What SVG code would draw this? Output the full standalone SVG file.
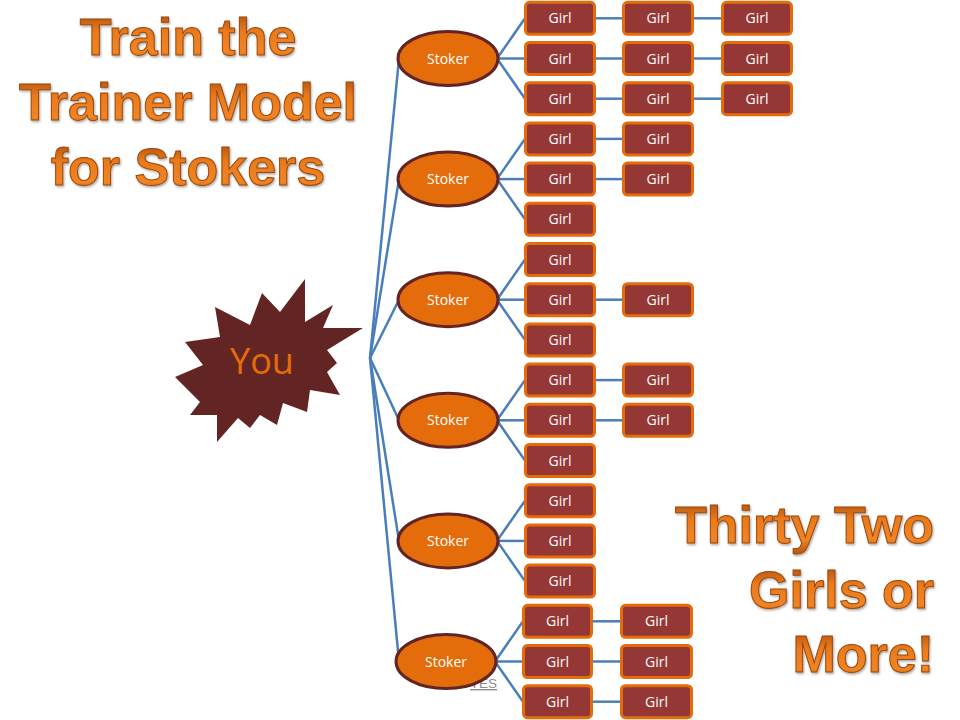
<svg xmlns="http://www.w3.org/2000/svg" width="960" height="720" viewBox="0 0 960 720">
<defs>
<linearGradient id="tg" x1="0" y1="0" x2="0" y2="1">
<stop offset="0" stop-color="#A2480A"/>
<stop offset="0.4" stop-color="#E97A1C"/>
<stop offset="0.75" stop-color="#F08524"/>
<stop offset="1" stop-color="#B2560D"/>
</linearGradient>
<filter id="sh" x="-5%" y="-10%" width="110%" height="130%">
<feDropShadow dx="1" dy="1.5" stdDeviation="0.8" flood-color="#000" flood-opacity="0.35"/>
</filter>
</defs>
<style>
.title{font-family:"Liberation Sans",Arial,sans-serif;font-weight:bold;font-size:52px;fill:url(#tg);stroke:#9C4709;stroke-width:1;filter:url(#sh)}
.con line{stroke:#4A7EBB;stroke-width:2.5;fill:none}
.stoker ellipse{fill:#E46C0A;stroke:#632523;stroke-width:3}
.stoker text{font-family:"Open Sans","Liberation Sans",sans-serif;font-size:14px;fill:#FFFFFF;text-anchor:middle}
.girl rect{fill:#953735;stroke:#E46C0A;stroke-width:3}
.girl text{font-family:"Open Sans","Liberation Sans",sans-serif;font-size:14px;fill:#FFFFFF;text-anchor:middle}
</style>
<rect width="960" height="720" fill="#FFFFFF"/>

<g id="title-top">
<text class="title" x="188" y="55" text-anchor="middle">Train the</text>
<text class="title" x="188" y="120" text-anchor="middle">Trainer Model</text>
<text class="title" x="188" y="185" text-anchor="middle">for Stokers</text>
</g>
<g id="title-bottom">
<text class="title" x="934" y="543" text-anchor="end">Thirty Two</text>
<text class="title" x="934" y="608" text-anchor="end">Girls or</text>
<text class="title" x="934" y="672" text-anchor="end">More!</text>
</g>

<text x="470" y="688" font-family="Liberation Sans,Arial,sans-serif" font-size="13.5" fill="#8C8C8C" text-decoration="underline">YES</text>

<g id="connectors" class="con">
<line x1="370" y1="358" x2="399" y2="58.5"/>
<line x1="370" y1="358" x2="399" y2="179.1"/>
<line x1="370" y1="358" x2="399" y2="299.7"/>
<line x1="370" y1="358" x2="399" y2="420.3"/>
<line x1="370" y1="358" x2="399" y2="540.9"/>
<line x1="370" y1="358" x2="399" y2="661.5"/>
<line x1="497" y1="58.5" x2="525" y2="18.3"/>
<line x1="497" y1="58.5" x2="525" y2="58.5"/>
<line x1="497" y1="58.5" x2="525" y2="98.7"/>
<line x1="594" y1="18.3" x2="623" y2="18.3"/>
<line x1="692" y1="18.3" x2="722" y2="18.3"/>
<line x1="594" y1="58.5" x2="623" y2="58.5"/>
<line x1="692" y1="58.5" x2="722" y2="58.5"/>
<line x1="594" y1="98.7" x2="623" y2="98.7"/>
<line x1="692" y1="98.7" x2="722" y2="98.7"/>
<line x1="497" y1="179.1" x2="525" y2="138.9"/>
<line x1="497" y1="179.1" x2="525" y2="179.1"/>
<line x1="497" y1="179.1" x2="525" y2="219.3"/>
<line x1="594" y1="138.9" x2="623" y2="138.9"/>
<line x1="594" y1="179.1" x2="623" y2="179.1"/>
<line x1="497" y1="299.7" x2="525" y2="259.5"/>
<line x1="497" y1="299.7" x2="525" y2="299.7"/>
<line x1="497" y1="299.7" x2="525" y2="339.9"/>
<line x1="594" y1="299.7" x2="623" y2="299.7"/>
<line x1="497" y1="420.3" x2="525" y2="380.1"/>
<line x1="497" y1="420.3" x2="525" y2="420.3"/>
<line x1="497" y1="420.3" x2="525" y2="460.5"/>
<line x1="594" y1="380.1" x2="623" y2="380.1"/>
<line x1="594" y1="420.3" x2="623" y2="420.3"/>
<line x1="497" y1="540.9" x2="525" y2="500.7"/>
<line x1="497" y1="540.9" x2="525" y2="540.9"/>
<line x1="497" y1="540.9" x2="525" y2="581.1"/>
<line x1="495" y1="661.5" x2="523" y2="621.3"/>
<line x1="495" y1="661.5" x2="523" y2="661.5"/>
<line x1="495" y1="661.5" x2="523" y2="701.7"/>
<line x1="592" y1="621.3" x2="621" y2="621.3"/>
<line x1="592" y1="661.5" x2="621" y2="661.5"/>
<line x1="592" y1="701.7" x2="621" y2="701.7"/>
</g>

<g id="you">
<polygon fill="#632523" points="305,279 305,322 333,305 323,328 363,328 327,350 337,363 327,372 340,395 310,390 307,412 283,403 277,425 260,415 250,428 238,418 217,442 217,415 190,415 200,402 175,377 203,365 185,342 220,337 215,307 250,325 262,293 280,312"/>
<text x="262" y="374" font-family="Open Sans,Liberation Sans,sans-serif" font-size="36" fill="#E46C0A" text-anchor="middle">You</text>
</g>

<g id="stoker1" class="stoker"><ellipse cx="448" cy="58.5" rx="50" ry="27"/><text x="448" y="63.5">Stoker</text></g>
<g id="stoker2" class="stoker"><ellipse cx="448" cy="179.1" rx="50" ry="27"/><text x="448" y="184.1">Stoker</text></g>
<g id="stoker3" class="stoker"><ellipse cx="448" cy="299.7" rx="50" ry="27"/><text x="448" y="304.7">Stoker</text></g>
<g id="stoker4" class="stoker"><ellipse cx="448" cy="420.3" rx="50" ry="27"/><text x="448" y="425.3">Stoker</text></g>
<g id="stoker5" class="stoker"><ellipse cx="448" cy="540.9" rx="50" ry="27"/><text x="448" y="545.9">Stoker</text></g>
<g id="stoker6" class="stoker"><ellipse cx="446" cy="661.5" rx="50" ry="27"/><text x="446" y="666.5">Stoker</text></g>

<g id="girl1-1a" class="girl"><rect x="525.5" y="2.3" width="69" height="32" rx="4"/><text x="560" y="23.3">Girl</text></g>
<g id="girl1-1b" class="girl"><rect x="623.5" y="2.3" width="69" height="32" rx="4"/><text x="658" y="23.3">Girl</text></g>
<g id="girl1-1c" class="girl"><rect x="722.5" y="2.3" width="69" height="32" rx="4"/><text x="757" y="23.3">Girl</text></g>
<g id="girl1-2a" class="girl"><rect x="525.5" y="42.5" width="69" height="32" rx="4"/><text x="560" y="63.5">Girl</text></g>
<g id="girl1-2b" class="girl"><rect x="623.5" y="42.5" width="69" height="32" rx="4"/><text x="658" y="63.5">Girl</text></g>
<g id="girl1-2c" class="girl"><rect x="722.5" y="42.5" width="69" height="32" rx="4"/><text x="757" y="63.5">Girl</text></g>
<g id="girl1-3a" class="girl"><rect x="525.5" y="82.7" width="69" height="32" rx="4"/><text x="560" y="103.7">Girl</text></g>
<g id="girl1-3b" class="girl"><rect x="623.5" y="82.7" width="69" height="32" rx="4"/><text x="658" y="103.7">Girl</text></g>
<g id="girl1-3c" class="girl"><rect x="722.5" y="82.7" width="69" height="32" rx="4"/><text x="757" y="103.7">Girl</text></g>

<g id="girl2-1a" class="girl"><rect x="525.5" y="122.9" width="69" height="32" rx="4"/><text x="560" y="143.9">Girl</text></g>
<g id="girl2-1b" class="girl"><rect x="623.5" y="122.9" width="69" height="32" rx="4"/><text x="658" y="143.9">Girl</text></g>
<g id="girl2-2a" class="girl"><rect x="525.5" y="163.1" width="69" height="32" rx="4"/><text x="560" y="184.1">Girl</text></g>
<g id="girl2-2b" class="girl"><rect x="623.5" y="163.1" width="69" height="32" rx="4"/><text x="658" y="184.1">Girl</text></g>
<g id="girl2-3a" class="girl"><rect x="525.5" y="203.3" width="69" height="32" rx="4"/><text x="560" y="224.3">Girl</text></g>

<g id="girl3-1a" class="girl"><rect x="525.5" y="243.5" width="69" height="32" rx="4"/><text x="560" y="264.5">Girl</text></g>
<g id="girl3-2a" class="girl"><rect x="525.5" y="283.7" width="69" height="32" rx="4"/><text x="560" y="304.7">Girl</text></g>
<g id="girl3-2b" class="girl"><rect x="623.5" y="283.7" width="69" height="32" rx="4"/><text x="658" y="304.7">Girl</text></g>
<g id="girl3-3a" class="girl"><rect x="525.5" y="323.9" width="69" height="32" rx="4"/><text x="560" y="344.9">Girl</text></g>

<g id="girl4-1a" class="girl"><rect x="525.5" y="364.1" width="69" height="32" rx="4"/><text x="560" y="385.1">Girl</text></g>
<g id="girl4-1b" class="girl"><rect x="623.5" y="364.1" width="69" height="32" rx="4"/><text x="658" y="385.1">Girl</text></g>
<g id="girl4-2a" class="girl"><rect x="525.5" y="404.3" width="69" height="32" rx="4"/><text x="560" y="425.3">Girl</text></g>
<g id="girl4-2b" class="girl"><rect x="623.5" y="404.3" width="69" height="32" rx="4"/><text x="658" y="425.3">Girl</text></g>
<g id="girl4-3a" class="girl"><rect x="525.5" y="444.5" width="69" height="32" rx="4"/><text x="560" y="465.5">Girl</text></g>

<g id="girl5-1a" class="girl"><rect x="525.5" y="484.7" width="69" height="32" rx="4"/><text x="560" y="505.7">Girl</text></g>
<g id="girl5-2a" class="girl"><rect x="525.5" y="524.9" width="69" height="32" rx="4"/><text x="560" y="545.9">Girl</text></g>
<g id="girl5-3a" class="girl"><rect x="525.5" y="565.1" width="69" height="32" rx="4"/><text x="560" y="586.1">Girl</text></g>

<g id="girl6-1a" class="girl"><rect x="523.5" y="605.3" width="68" height="32" rx="4"/><text x="557.5" y="626.3">Girl</text></g>
<g id="girl6-1b" class="girl"><rect x="621.5" y="605.3" width="70" height="32" rx="4"/><text x="656.5" y="626.3">Girl</text></g>
<g id="girl6-2a" class="girl"><rect x="523.5" y="645.5" width="68" height="32" rx="4"/><text x="557.5" y="666.5">Girl</text></g>
<g id="girl6-2b" class="girl"><rect x="621.5" y="645.5" width="70" height="32" rx="4"/><text x="656.5" y="666.5">Girl</text></g>
<g id="girl6-3a" class="girl"><rect x="523.5" y="685.7" width="68" height="32" rx="4"/><text x="557.5" y="706.7">Girl</text></g>
<g id="girl6-3b" class="girl"><rect x="621.5" y="685.7" width="70" height="32" rx="4"/><text x="656.5" y="706.7">Girl</text></g>
</svg>
